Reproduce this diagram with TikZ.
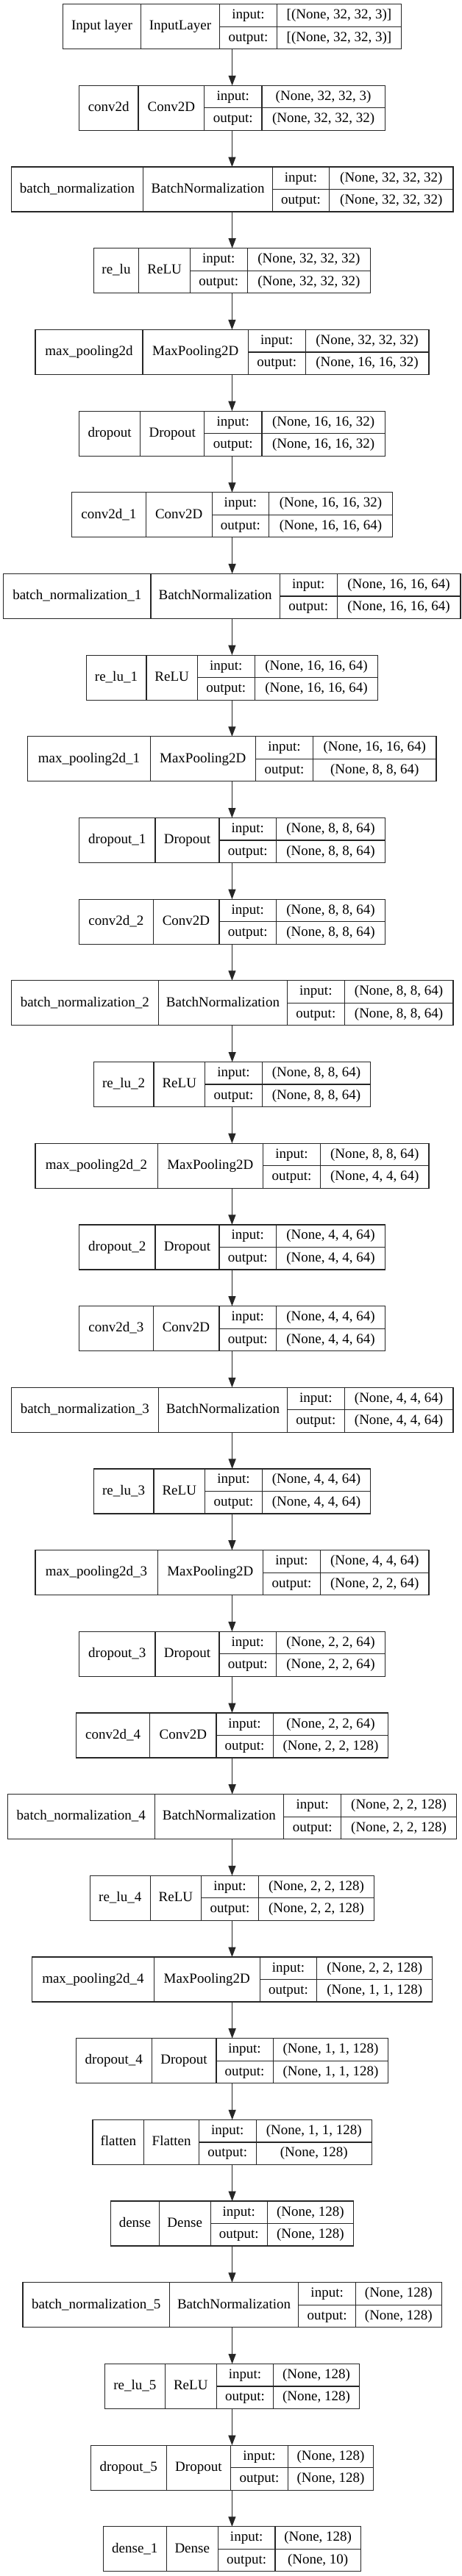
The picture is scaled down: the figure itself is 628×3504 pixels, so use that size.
\documentclass[tikz,border=0pt]{standalone}
\usepackage{fontspec}
\setmainfont{Liberation Serif}
\usetikzlibrary{arrows.meta}
\tikzset{
  layerbox/.style={draw=black!85, line width=1.2pt, inner sep=0pt, outer sep=0pt, minimum height=61pt},
  cell/.style={inner sep=0pt, font=\fontsize{19}{22}\selectfont, text height=13.5pt, text depth=4pt},
  divider/.style={draw=black!85, line width=1.2pt},
  flow/.style={draw=black!85, line width=1.2pt, -{Triangle[length=13.5pt,width=10pt]}}
}
\newcommand\lbox[7]{%
  \pgfmathsetmacro\lyT{5.7+#2*110.68}%
  \pgfmathsetmacro\lyB{\lyT+61}%
  \pgfmathsetmacro\lyM{\lyT+30.5}%
  \pgfmathsetmacro\lyR{\lyT+15.25}%
  \pgfmathsetmacro\lyS{\lyT+45.75}%
  \pgfmathsetmacro\lbW{#7-#3}%
  \pgfmathsetmacro\lbC{(#3+#7)/2}%
  \def\lxA{#3}\def\lxB{#4}\def\lxC{#5}\def\lxD{#6}\def\lxE{#7}%
  \node[layerbox, minimum width=\lbW pt] (#1) at (\lbC,\lyM) {};
  \draw[divider] (\lxB,\lyT) -- (\lxB,\lyB) (\lxC,\lyT) -- (\lxC,\lyB) (\lxD,\lyT) -- (\lxD,\lyB) (\lxC,\lyM) -- (\lxE,\lyM);
}
\newcommand\ltext[5]{%
  \node[cell] (#1-name) at ({(\lxA+\lxB)/2},\lyM) {#2};
  \node[cell] (#1-class) at ({(\lxB+\lxC)/2},\lyM) {#3};
  \node[cell] (#1-inl) at ({(\lxC+\lxD)/2},\lyR) {input:};
  \node[cell] (#1-outl) at ({(\lxC+\lxD)/2},\lyS) {output:};
  \node[cell] (#1-in) at ({(\lxD+\lxE)/2},\lyR) {#4};
  \node[cell] (#1-out) at ({(\lxD+\lxE)/2},\lyS) {#5};
}
\begin{document}
\begin{tikzpicture}[x=1pt,y=-1pt]
\fill[white] (0,0) rectangle (628,3504);
\useasboundingbox (0,0) rectangle (628,3504);

\lbox{l0}{0}{85.7}{191.2}{298.7}{376.4}{545.5}
\ltext{l0}{Input layer}{InputLayer}{[(None, 32, 32, 3)]}{[(None, 32, 32, 3)]}
\lbox{l1}{1}{107.5}{188.0}{277.8}{355.9}{523.4}
\ltext{l1}{conv2d}{Conv2D}{(None, 32, 32, 3)}{(None, 32, 32, 32)}
\lbox{l2}{2}{15.3}{194.8}{370.4}{447.7}{616}
\ltext{l2}{batch\_normalization}{BatchNormalization}{(None, 32, 32, 32)}{(None, 32, 32, 32)}
\lbox{l3}{3}{127.2}{188.8}{258.5}{336.2}{503.6}
\ltext{l3}{re\_lu}{ReLU}{(None, 32, 32, 32)}{(None, 32, 32, 32)}
\lbox{l4}{4}{47.9}{194.0}{337.4}{415.1}{582.9}
\ltext{l4}{max\_pooling2d}{MaxPooling2D}{(None, 32, 32, 32)}{(None, 16, 16, 32)}
\lbox{l5}{5}{107.5}{190.8}{277.8}{355.9}{523.4}
\ltext{l5}{dropout}{Dropout}{(None, 16, 16, 32)}{(None, 16, 16, 32)}
\lbox{l6}{6}{97.8}{198.1}{288.3}{365.5}{533.4}
\ltext{l6}{conv2d\_1}{Conv2D}{(None, 16, 16, 32)}{(None, 16, 16, 64)}
\lbox{l7}{7}{4.8}{204.9}{380.4}{458.1}{626}
\ltext{l7}{batch\_normalization\_1}{BatchNormalization}{(None, 16, 16, 64)}{(None, 16, 16, 64)}
\lbox{l8}{8}{117.1}{198.9}{268.5}{346.2}{513.7}
\ltext{l8}{re\_lu\_1}{ReLU}{(None, 16, 16, 64)}{(None, 16, 16, 64)}
\lbox{l9}{9}{37.8}{204.1}{347.4}{425.5}{593}
\ltext{l9}{max\_pooling2d\_1}{MaxPooling2D}{(None, 16, 16, 64)}{(None, 8, 8, 64)}
\lbox{l10}{10}{107.5}{211}{297.9}{375.6}{523.4}
\ltext{l10}{dropout\_1}{Dropout}{(None, 8, 8, 64)}{(None, 8, 8, 64)}
\lbox{l11}{11}{107.5}{208.1}{297.9}{375.6}{523.4}
\ltext{l11}{conv2d\_2}{Conv2D}{(None, 8, 8, 64)}{(None, 8, 8, 64)}
\lbox{l12}{12}{15.3}{215.4}{390.5}{468.2}{616}
\ltext{l12}{batch\_normalization\_2}{BatchNormalization}{(None, 8, 8, 64)}{(None, 8, 8, 64)}
\lbox{l13}{13}{127.2}{208.9}{278.6}{356.3}{503.6}
\ltext{l13}{re\_lu\_2}{ReLU}{(None, 8, 8, 64)}{(None, 8, 8, 64)}
\lbox{l14}{14}{47.9}{214.2}{357.5}{435.6}{582.9}
\ltext{l14}{max\_pooling2d\_2}{MaxPooling2D}{(None, 8, 8, 64)}{(None, 4, 4, 64)}
\lbox{l15}{15}{107.5}{211}{297.9}{375.6}{523.4}
\ltext{l15}{dropout\_2}{Dropout}{(None, 4, 4, 64)}{(None, 4, 4, 64)}
\lbox{l16}{16}{107.5}{208.1}{297.9}{375.6}{523.4}
\ltext{l16}{conv2d\_3}{Conv2D}{(None, 4, 4, 64)}{(None, 4, 4, 64)}
\lbox{l17}{17}{15.3}{215.4}{390.5}{468.2}{616}
\ltext{l17}{batch\_normalization\_3}{BatchNormalization}{(None, 4, 4, 64)}{(None, 4, 4, 64)}
\lbox{l18}{18}{127.2}{208.9}{278.6}{356.3}{503.6}
\ltext{l18}{re\_lu\_3}{ReLU}{(None, 4, 4, 64)}{(None, 4, 4, 64)}
\lbox{l19}{19}{47.9}{214.2}{357.5}{435.6}{582.9}
\ltext{l19}{max\_pooling2d\_3}{MaxPooling2D}{(None, 4, 4, 64)}{(None, 2, 2, 64)}
\lbox{l20}{20}{107.5}{211}{297.9}{375.6}{523.4}
\ltext{l20}{dropout\_3}{Dropout}{(None, 2, 2, 64)}{(None, 2, 2, 64)}
\lbox{l21}{21}{103.5}{203.7}{293.9}{371.2}{527.8}
\ltext{l21}{conv2d\_4}{Conv2D}{(None, 2, 2, 64)}{(None, 2, 2, 128)}
\lbox{l22}{22}{10.5}{210.1}{385.7}{463.8}{620.4}
\ltext{l22}{batch\_normalization\_4}{BatchNormalization}{(None, 2, 2, 128)}{(None, 2, 2, 128)}
\lbox{l23}{23}{122.4}{204.1}{273.8}{351.4}{508.5}
\ltext{l23}{re\_lu\_4}{ReLU}{(None, 2, 2, 128)}{(None, 2, 2, 128)}
\lbox{l24}{24}{43.5}{209.3}{353.1}{430.8}{587.8}
\ltext{l24}{max\_pooling2d\_4}{MaxPooling2D}{(None, 2, 2, 128)}{(None, 1, 1, 128)}
\lbox{l25}{25}{103.5}{206.1}{293.9}{371.2}{527.8}
\ltext{l25}{dropout\_4}{Dropout}{(None, 1, 1, 128)}{(None, 1, 1, 128)}
\lbox{l26}{26}{126}{195.7}{270.5}{348.2}{505.2}
\ltext{l26}{flatten}{Flatten}{(None, 1, 1, 128)}{(None, 128)}
\lbox{l27}{27}{150.6}{216.2}{286.2}{363.5}{480.3}
\ltext{l27}{dense}{Dense}{(None, 128)}{(None, 128)}
\lbox{l28}{28}{31}{230.3}{405.8}{483.5}{600.2}
\ltext{l28}{batch\_normalization\_5}{BatchNormalization}{(None, 128)}{(None, 128)}
\lbox{l29}{29}{142.5}{224.2}{294.3}{371.6}{488.3}
\ltext{l29}{re\_lu\_5}{ReLU}{(None, 128)}{(None, 128)}
\lbox{l30}{30}{123.2}{226.2}{313.6}{391.3}{507.6}
\ltext{l30}{dropout\_5}{Dropout}{(None, 128)}{(None, 128)}
\lbox{l31}{31}{140.5}{226.2}{296.3}{374}{490.3}
\ltext{l31}{dense\_1}{Dense}{(None, 128)}{(None, 10)}

\foreach \i [evaluate=\i as \j using int(\i+1)] in {0,...,30}
  \draw[flow] (l\i.south) -- (l\i.south |- l\j.north);
\end{tikzpicture}
\end{document}
